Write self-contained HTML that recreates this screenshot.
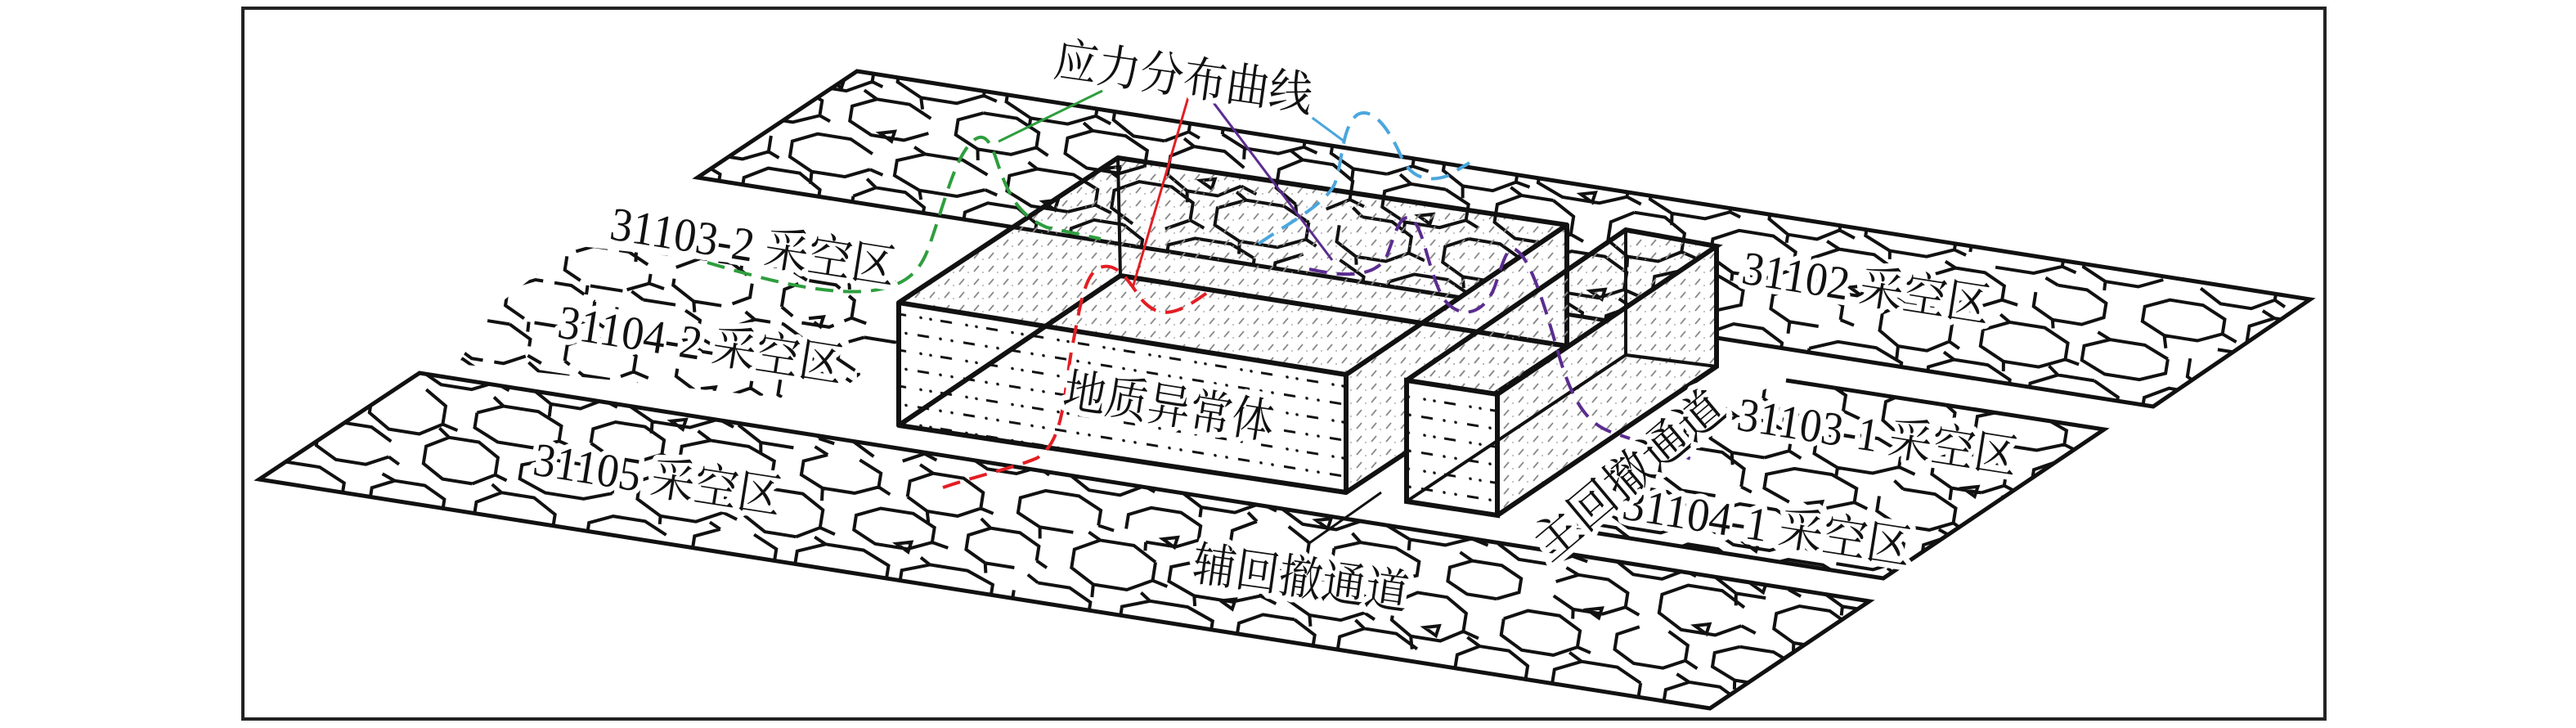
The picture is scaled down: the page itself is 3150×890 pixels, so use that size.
<!DOCTYPE html>
<html><head><meta charset="utf-8">
<style>
html,body{margin:0;padding:0;background:#fff;width:3150px;height:890px;overflow:hidden;}
svg{display:block;}
.lbl{font-family:"Liberation Serif","Noto Serif CJK SC",serif;font-size:58px;fill:#111;stroke:#fff;stroke-width:14px;paint-order:stroke;stroke-linejoin:round;}
</style></head>
<body>
<svg id="s" xmlns="http://www.w3.org/2000/svg" width="3150" height="890" viewBox="0 0 3150 890">
<defs>
<pattern id="hatch" patternUnits="userSpaceOnUse" width="18" height="16">
<line x1="3" y1="12" x2="9" y2="5" stroke="#8a8a8a" stroke-width="1.8"/>
<circle cx="14" cy="13" r="0.9" fill="#999"/>
</pattern>
<pattern id="dd" patternUnits="userSpaceOnUse" width="56" height="44" patternTransform="skewY(9.2)">
<line x1="2" y1="8" x2="16" y2="8" stroke="#111" stroke-width="3"/>
<circle cx="30" cy="8" r="1.8" fill="#111"/><circle cx="44" cy="8" r="1.8" fill="#111"/>
<line x1="30" y1="30" x2="44" y2="30" stroke="#111" stroke-width="3"/>
<circle cx="6" cy="30" r="1.8" fill="#111"/><circle cx="18" cy="30" r="1.8" fill="#111"/>
</pattern>
<clipPath id="c1"><polygon points="1048,87 2825,366 2633,497 853,217"/></clipPath>
<clipPath id="c2"><polygon points="513,456 2286,735 2091,866 317,586"/></clipPath>
<clipPath id="c3"><polygon points="2184,465 2573,525 2303,707 1910,645 1960,560"/></clipPath>
<clipPath id="c4"><polygon points="700,300 1110,345 1100,420 1010,492 560,445 600,380"/></clipPath>
</defs>
<rect x="0" y="0" width="3150" height="890" fill="#fff"/>
<rect x="297" y="10" width="2546" height="869" fill="none" stroke="#222" stroke-width="4"/>
<g id="gob1" clip-path="url(#c1)" fill="none" stroke="#111" stroke-width="4"></g>
<g id="gob2" clip-path="url(#c2)" fill="none" stroke="#111" stroke-width="4"></g>
<g id="gob3" clip-path="url(#c3)" fill="none" stroke="#111" stroke-width="4"></g>
<g id="gob4" clip-path="url(#c4)" fill="none" stroke="#111" stroke-width="4" stroke-dasharray="40 14"></g>
<g fill="none" stroke="#111" stroke-width="5" stroke-linejoin="miter">
<polygon points="1048,87 2825,366 2633,497 853,217"/>
<polygon points="513,456 2286,735 2091,866 317,586"/>
<polyline points="2184,465 2573,525 2303,707 1910,645"/>
</g>
<g stroke="#111" stroke-linejoin="round">
<polygon points="1367,193 1916,275 1646,458 1099,370" fill="url(#hatch)" stroke="none"/>
<polygon points="1099,370 1646,458 1646,602 1099,520" fill="#fff" stroke="none"/>
<polygon points="1099,370 1646,458 1646,602 1099,520" fill="url(#dd)" stroke="none"/>
<polygon points="1646,458 1916,275 1916,423 1646,602" fill="#fff" stroke="none"/>
<polygon points="1646,458 1916,275 1916,423 1646,602" fill="url(#hatch)" stroke="none"/>
<g fill="none" stroke-width="6">
<polygon points="1367,193 1916,275 1646,458 1099,370"/>
<polyline points="1099,370 1099,520 1646,602 1646,458"/>
<polyline points="1646,602 1916,423 1916,275"/>
<polyline points="1099,520 1370,337 1916,423"/>
<line x1="1367" y1="193" x2="1370" y2="337" stroke-width="4"/>
</g>
</g>
<g stroke="#111">
<polygon points="1720,465 1988,281 2099,301 1831,482" fill="url(#hatch)" stroke="none"/>
<polygon points="1831,482 2099,301 2099,448 1831,630" fill="#fff" stroke="none"/>
<polygon points="1831,482 2099,301 2099,448 1831,630" fill="url(#hatch)" stroke="none"/>
<polygon points="1720,465 1831,482 1831,630 1720,613" fill="#fff" stroke="none"/>
<polygon points="1720,465 1831,482 1831,630 1720,613" fill="url(#dd)" stroke="none"/>
<g fill="none" stroke-width="6">
<polygon points="1720,465 1831,482 1831,630 1720,613"/>
<polyline points="1720,465 1988,281 2099,301 1831,482"/>
<polyline points="2099,301 2099,448 1831,630"/>
<polyline points="1720,613 1988,434 2099,448" stroke-width="4"/>
<line x1="1988" y1="281" x2="1988" y2="434" stroke-width="4"/>
</g>
</g>
<line x1="1601" y1="664" x2="1689" y2="602" stroke="#111" stroke-width="3"/>
<g fill="none" stroke-width="4" stroke-dasharray="22 12">
<path stroke="#2e9e3e" d="M865,321 C930,340 1000,360 1060,356 C1120,350 1130,320 1140,290 C1160,230 1170,190 1190,172 C1205,160 1212,175 1220,200 C1235,245 1250,265 1280,278 L1346,292"/>
<path stroke="#e31e24" d="M1153,596 C1200,580 1240,572 1268,560 C1300,540 1300,490 1310,430 C1320,380 1325,335 1345,327 C1365,320 1378,340 1395,365 C1420,395 1445,380 1476,358"/>
<path stroke="#5b2c8f" d="M1601,329 C1640,338 1680,340 1695,315 C1705,290 1710,265 1722,266 C1740,268 1745,330 1765,365 C1785,392 1815,385 1828,350 C1838,320 1843,300 1853,305 C1870,315 1885,360 1905,430 C1925,500 1945,520 1975,530 L2071,562"/>
<path stroke="#4ba6dd" d="M1539,298 C1580,270 1620,250 1632,225 C1642,200 1640,155 1660,140 C1680,130 1700,160 1715,195 C1728,220 1750,222 1770,215 L1797,199"/>
</g>
<g stroke-width="3">
<line x1="1348" y1="111" x2="1221" y2="173" stroke="#2e9e3e"/>
<line x1="1453" y1="119" x2="1385" y2="352" stroke="#e31e24"/>
<line x1="1479" y1="119" x2="1629" y2="318" stroke="#5b2c8f"/>
<line x1="1587" y1="131" x2="1644" y2="173" stroke="#4ba6dd"/>
</g>
<g class="lbl">
<text transform="translate(744,292) rotate(9)" textLength="352" lengthAdjust="spacingAndGlyphs">31103-2 采空区</text>
<text transform="translate(680,412) rotate(9)" textLength="352" lengthAdjust="spacingAndGlyphs">31104-2 采空区</text>
<text transform="translate(650,580) rotate(9)" textLength="306" lengthAdjust="spacingAndGlyphs">31105 采空区</text>
<text transform="translate(1287,92) rotate(8)" textLength="318" lengthAdjust="spacingAndGlyphs">应力分布曲线</text>
<text transform="translate(1298,496) rotate(9)" textLength="260" lengthAdjust="spacingAndGlyphs">地质异常体</text>
<text transform="translate(1456,708) rotate(8)" textLength="266" lengthAdjust="spacingAndGlyphs">辅回撤通道</text>
<text transform="translate(2128,346) rotate(9)" textLength="306" lengthAdjust="spacingAndGlyphs">31102 采空区</text>
<text transform="translate(2122,525) rotate(9)" textLength="346" lengthAdjust="spacingAndGlyphs">31103-1 采空区</text>
<text transform="translate(1982,634) rotate(9)" textLength="356" lengthAdjust="spacingAndGlyphs">31104-1 采空区</text>
<text transform="translate(1895,688) rotate(-40)" textLength="285" lengthAdjust="spacingAndGlyphs">主回撤通道</text>
</g>
</svg>
<script>
(function(){
var NS="http://www.w3.org/2000/svg";
var seed=12345;function r(){seed=(seed*1103515245+12345)%2147483648;return seed/2147483648;}
var ang=9*Math.PI/180,ca=Math.cos(ang),sa=Math.sin(ang);
function fill(id,x0,y0,x1,y1){
 var g=document.getElementById(id);var d="";
 var sx=132,sy=56,row=0;
 for(var y=y0;y<y1;y+=sy,row++){
  for(var x=x0+(row%2?sx/2:0);x<x1;x+=sx){
   var cx=x+(r()-0.5)*12, cy=y+(x-x0)*0.157+(r()-0.5)*6;
   var rx=46+r()*16, ry=22+r()*8;
   var pts=[];
   for(var k=0;k<8;k++){var a=(k*45+22.5)*Math.PI/180;var px=rx*Math.cos(a),py=ry*Math.sin(a);
     pts.push([cx+px*ca-py*sa, cy+px*sa+py*ca]);}
   var skip=Math.floor(r()*8);var s="";
   var closed=r()<0.6;
   for(var k=0;k<(closed?9:8);k++){var p=pts[(skip+1+k)%8];s+=(k==0?"M":"L")+p[0].toFixed(1)+","+p[1].toFixed(1);}
   d+=s;
   // connectors to neighbors (network look)
   if(r()<0.7){var p0=pts[0];d+="M"+p0[0].toFixed(1)+","+p0[1].toFixed(1)+"l"+(12+r()*8).toFixed(1)+","+(6+r()*4).toFixed(1);}
   if(r()<0.6){var p2=pts[2];d+="M"+p2[0].toFixed(1)+","+p2[1].toFixed(1)+"l"+(-2+r()*4).toFixed(1)+","+(10+r()*6).toFixed(1);}
   if(r()<0.6){var p5=pts[5];d+="M"+p5[0].toFixed(1)+","+p5[1].toFixed(1)+"l"+(-10-r()*6).toFixed(1)+","+(-8-r()*4).toFixed(1);}
   if(r()<0.25){var tx=cx+rx+6,ty=cy-ry-2;d+="M"+tx.toFixed(1)+","+ty.toFixed(1)+"l18,-2l-4,12z";}
  }
 }
 var p=document.createElementNS(NS,"path");p.setAttribute("d",d);g.appendChild(p);
}
fill("gob1",820,-120,2860,520);
fill("gob2",300,300,2300,880);
fill("gob3",1880,380,2600,720);
fill("gob4",540,240,1130,510);
})();
</script>
</body></html>
